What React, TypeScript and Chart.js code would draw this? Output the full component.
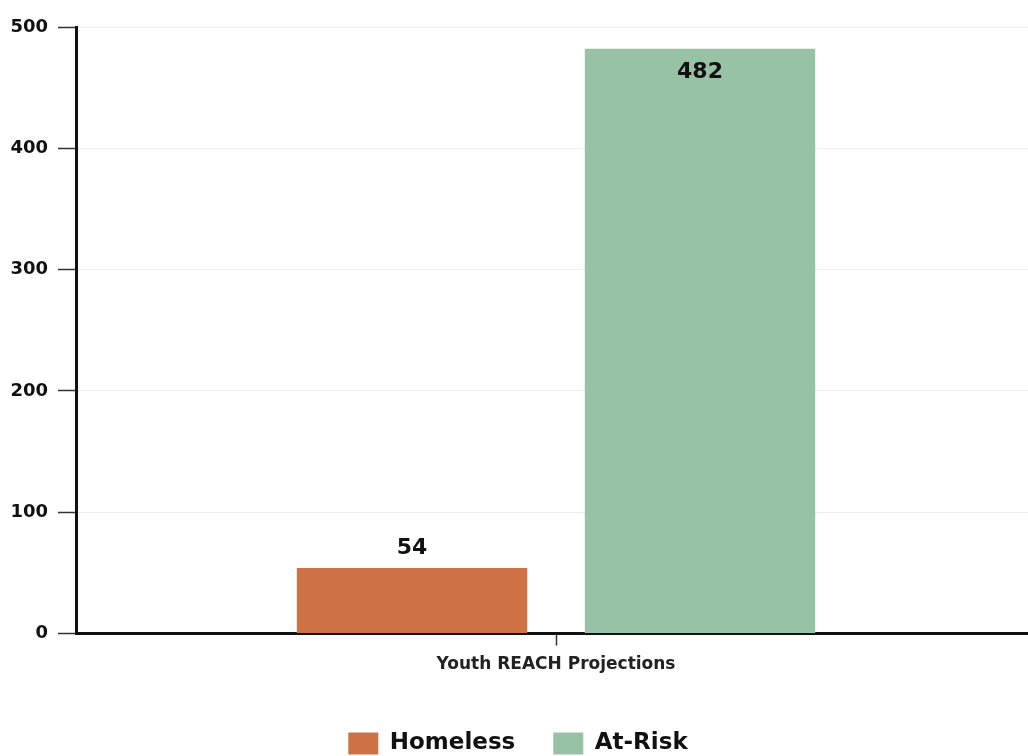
import React, { useEffect, useRef } from "react";
import { Chart, registerables } from "chart.js";

Chart.register(...registerables);

const categories = ["Youth REACH Projections"];
const seriesNames = ["Homeless", "At-Risk"];
const homelessValues = [54];
const atRiskValues = [482];
const seriesColors = ["#CE7246", "#97C2A6"];
const yTicks = [0, 100, 200, 300, 400, 500];

const FONT = "'DejaVu Sans', 'Noto Sans', sans-serif";

const valueLabelPlugin = {
  id: "valueLabels",
  afterDatasetsDraw(chart: any) {
    const ctx = chart.ctx;
    ctx.save();
    ctx.font = `700 22px ${FONT}`;
    ctx.fillStyle = "#111";
    ctx.textAlign = "center";
    ctx.textBaseline = "middle";
    chart.data.datasets.forEach((ds: any, di: number) => {
      const meta = chart.getDatasetMeta(di);
      meta.data.forEach((bar: any, i: number) => {
        const v = ds.data[i];
        const h = bar.base - bar.y;
        if (h > 100) {
          ctx.fillText(String(v), bar.x, bar.y + 23);
        } else {
          ctx.fillText(String(v), bar.x, bar.y - 20);
        }
      });
    });
    ctx.restore();
  },
};

export default function App() {
  const ref = useRef<HTMLCanvasElement>(null);
  useEffect(() => {
    if (!ref.current) return;
    const chart = new Chart(ref.current, {
      type: "bar",
      data: {
        labels: categories,
        datasets: [
          { label: seriesNames[0], data: homelessValues, backgroundColor: seriesColors[0] },
          { label: seriesNames[1], data: atRiskValues, backgroundColor: seriesColors[1] },
        ],
      },
      plugins: [valueLabelPlugin],
      options: {
        animation: false,
        responsive: false,
        maintainAspectRatio: false,
        layout: { padding: { top: 27, right: 0, left: 0, bottom: -9 } },
        categoryPercentage: 0.6,
        barPercentage: 0.8,
        plugins: {
          legend: {
            position: "bottom",
            labels: {
              boxWidth: 30,
              boxHeight: 22,
              padding: 38,
              color: "#111",
              font: { family: FONT, weight: "700", size: 23 },
            },
          },
          tooltip: { enabled: false },
        },
        scales: {
          x: {
            afterFit: (scale: any) => {
              scale.height = scale.height + 10;
            },
            grid: {
              display: true,
              offset: false,
              drawOnChartArea: false,
              tickLength: 12,
              tickColor: "#333",
              tickWidth: 1.5,
            },
            border: { display: true, color: "#111", width: 3 },
            ticks: {
              color: "#222",
              padding: 9,
              font: { family: FONT, weight: "700", size: 17 },
            },
          },
          y: {
            min: 0,
            max: 500,
            afterBuildTicks: (scale: any) => {
              scale.ticks = yTicks.map((v) => ({ value: v }));
            },
            afterFit: (scale: any) => {
              scale.width = 76;
            },
            grid: {
              color: "#eeeeee",
              lineWidth: 1,
              tickLength: 18,
              tickColor: "#333",
              tickWidth: 1.5,
            },
            border: { display: true, color: "#111", width: 3 },
            ticks: {
              color: "#111",
              padding: 10,
              font: { family: FONT, weight: "700", size: 18 },
            },
          },
        },
      },
    } as any);
    return () => chart.destroy();
  }, []);
  return (
    <div style={{ position: "absolute", left: 0, top: 0, width: 1028, height: 756, overflow: "hidden", background: "#fff" }}>
      <canvas ref={ref} width={1036} height={756} style={{ display: "block" }} />
    </div>
  );
}
